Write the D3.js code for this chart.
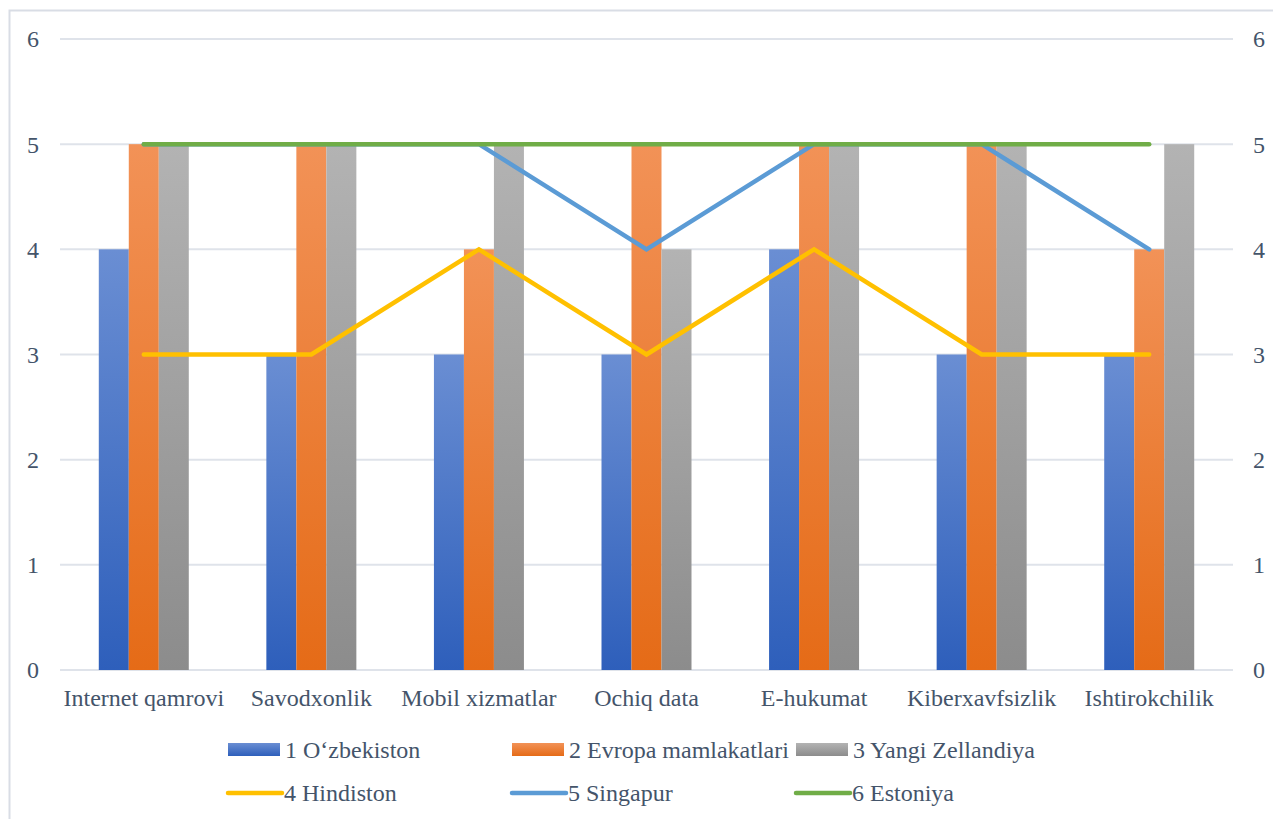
<!DOCTYPE html>
<html>
<head>
<meta charset="utf-8">
<script src="https://cdn.jsdelivr.net/npm/d3@7"></script>
<style>
  body { margin: 0; background: #fff; }
</style>
</head>
<body>
<div id="chart"></div>
<script>
"use strict"

var categories = ['Internet qamrovi', 'Savodxonlik', 'Mobil xizmatlar', 'Ochiq data', 'E-hukumat', 'Kiberxavfsizlik', 'Ishtirokchilik'];
var barNames = ['1 O\u2018zbekiston', '2 Evropa mamlakatlari', '3 Yangi Zellandiya'];
var uzbekiston = [4, 3, 3, 3, 4, 3, 3];
var evropa = [5, 5, 4, 5, 5, 5, 4];
var zellandiya = [5, 5, 5, 4, 5, 5, 5];
var lineNames = ['4 Hindiston', '5 Singapur', '6 Estoniya'];
var hindiston = [3, 3, 4, 3, 4, 3, 3];
var singapur = [5, 5, 5, 4, 5, 5, 4];
var estoniya = [5, 5, 5, 5, 5, 5, 5];
var yTicks = [0, 1, 2, 3, 4, 5, 6];

var W = 1273, H = 819;
var plotLeft = 60, plotRight = 1233, plotTop = 39, plotBottom = 670;
var FONT = "'Liberation Serif', 'Times New Roman', serif";
var TEXT_COLOR = '#44546a';

var barSeries = [uzbekiston, evropa, zellandiya];
var lineSeries = [hindiston, singapur, estoniya];
// top / bottom colours of the gradient fills
var barColors = [['#6a8ed3', '#2e5fbb'], ['#f29257', '#e56b17'], ['#b3b3b3', '#8c8c8c']];
var lineColors = ['#ffc000', '#5b9bd5', '#70ad47'];

var svg = d3.select('#chart').append('svg')
  .attr('width', W)
  .attr('height', H);

// light frame round the chart
svg.append('rect')
  .attr('x', 9.5).attr('y', 10.5)
  .attr('width', W).attr('height', H)
  .attr('fill', 'none')
  .attr('stroke', '#d9dde5')
  .attr('stroke-width', 2);

var defs = svg.append('defs');
barColors.forEach((c, i) => {
  var g = defs.append('linearGradient')
    .attr('id', 'grad' + i)
    .attr('x1', 0).attr('y1', 0).attr('x2', 0).attr('y2', 1);
  g.append('stop').attr('offset', '0%').attr('stop-color', c[0]);
  g.append('stop').attr('offset', '100%').attr('stop-color', c[1]);
});

var x = d3.scaleBand()
  .domain(categories)
  .range([plotLeft, plotRight]);

var xSub = d3.scaleBand()
  .domain([0, 1, 2])
  .range([0, 90]);

var y = d3.scaleLinear()
  .domain([0, 6])
  .range([plotBottom, plotTop]);

function styleText(sel) {
  sel.style('font-family', FONT)
    .style('font-size', '24px')
    .style('fill', TEXT_COLOR);
}

// grid lines
svg.append('g').selectAll('line')
  .data(yTicks)
  .enter().append('line')
  .attr('x1', plotLeft).attr('x2', plotRight)
  .attr('y1', d => y(d)).attr('y2', d => y(d))
  .attr('stroke', '#dfe3ea')
  .attr('stroke-width', 2);

// left and right axes (labels only)
var yAxisL = d3.axisLeft(y).tickValues(yTicks).tickFormat(d3.format('d')).tickSize(0).tickPadding(0);
svg.append('g')
  .attr('transform', 'translate(39,0)')
  .call(yAxisL)
  .call(g => g.select('.domain').remove())
  .selectAll('text')
  .call(styleText)
  .attr('dy', '0.33em');

var yAxisR = d3.axisRight(y).tickValues(yTicks).tickFormat(d3.format('d')).tickSize(0).tickPadding(0);
svg.append('g')
  .attr('transform', 'translate(1253,0)')
  .call(yAxisR)
  .call(g => g.select('.domain').remove())
  .selectAll('text')
  .call(styleText)
  .attr('dy', '0.33em');

// bars
barSeries.forEach((vals, s) => {
  svg.append('g').selectAll('rect')
    .data(vals)
    .enter().append('rect')
    .attr('x', (d, i) => x(categories[i]) + x.bandwidth() / 2 - 45 + xSub(s))
    .attr('y', d => y(d))
    .attr('width', xSub.bandwidth())
    .attr('height', d => plotBottom - y(d))
    .attr('fill', 'url(#grad' + s + ')');
});

// x labels
svg.append('g').selectAll('text')
  .data(categories)
  .enter().append('text')
  .attr('x', d => x(d) + x.bandwidth() / 2)
  .attr('y', 706)
  .attr('text-anchor', 'middle')
  .call(styleText)
  .text(d => d);

// lines
var line = d3.line()
  .x((d, i) => x(categories[i]) + x.bandwidth() / 2)
  .y(d => y(d));

lineSeries.forEach((vals, s) => {
  svg.append('path')
    .datum(vals)
    .attr('d', line)
    .attr('fill', 'none')
    .attr('stroke', lineColors[s])
    .attr('stroke-width', 4.5)
    .attr('stroke-linecap', 'round')
    .attr('stroke-linejoin', 'miter');
});

// legend
var legX = [228, 512, 796];
var legend = svg.append('g');
barNames.forEach((name, i) => {
  legend.append('rect')
    .attr('x', legX[i]).attr('y', 743)
    .attr('width', 52).attr('height', 13)
    .attr('fill', 'url(#grad' + i + ')');
  legend.append('text')
    .attr('x', legX[i] + 57).attr('y', 758)
    .call(styleText)
    .text(name);
});
lineNames.forEach((name, i) => {
  legend.append('line')
    .attr('x1', legX[i]).attr('x2', legX[i] + 54)
    .attr('y1', 793).attr('y2', 793)
    .attr('stroke', lineColors[i])
    .attr('stroke-width', 4.5)
    .attr('stroke-linecap', 'round');
  legend.append('text')
    .attr('x', legX[i] + 56).attr('y', 801)
    .call(styleText)
    .text(name);
});
</script>
</body>
</html>
